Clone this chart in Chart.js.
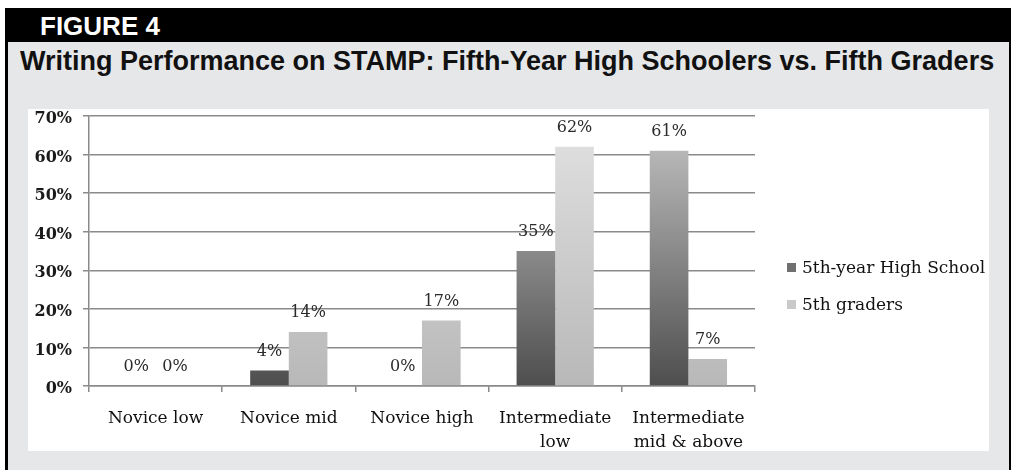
<!DOCTYPE html>
<html>
<head>
<meta charset="utf-8">
<title>Figure 4</title>
<script src="https://cdn.jsdelivr.net/npm/chart.js@4.4.1/dist/chart.umd.min.js"></script>
<style>
  html, body { margin: 0; padding: 0; background: #fff; }
  body {
    width: 1011px; height: 470px; position: relative; overflow: hidden;
    font-family: 'Liberation Sans', Arial, sans-serif;
  }
  .header {
    position: absolute; left: 5px; top: 8px; width: 1006px; height: 34px;
    background: #000;
  }
  .header span {
    position: absolute; left: 35px; top: 0; line-height: 36px;
    color: #fff; font-weight: bold; font-size: 26px;
  }
  .panel {
    position: absolute; left: 5px; top: 42px; width: 1006px; height: 428px;
    background: #e6e7e8; box-sizing: border-box;
    border-left: 3px solid #000; border-right: 2px solid #000;
  }
  .title {
    position: absolute; left: 20px; top: 46px; white-space: nowrap;
    font-weight: bold; font-size: 27px; line-height: 30px; color: #111;
  }
  .plot {
    position: absolute; left: 28px; top: 109px; width: 961px; height: 342px;
    background: #fff;
  }
  .plot canvas { display: block; }
</style>
</head>
<body>
<div class="header"><span>FIGURE 4</span></div>
<div class="panel"></div>
<div class="title">Writing Performance on STAMP: Fifth-Year High Schoolers vs. Fifth Graders</div>
<div class="plot"><canvas id="chart" width="961" height="342"></canvas></div>

<script>
// proficiency levels along the x axis
const categories = [
    'Novice low',
    'Novice mid',
    'Novice high',
    ['Intermediate', 'low'],
    ['Intermediate', 'mid & above']
];

const seriesNames = ['5th-year High School', '5th graders'];

// percent of students at each level
const highSchoolValues = [0, 4, 0, 35, 61];
const fifthGraderValues = [0, 14, 17, 62, 7];

const yTickLabels = ['0%', '10%', '20%', '30%', '40%', '50%', '60%', '70%'];

const SERIF = "'DejaVu Serif', serif";
const AXIS_GRAY = '#8a8a8a';

// vertical fade across the plot area, light at the top, darker at the base
function fade(topColor, bottomColor) {
    return function (context) {
        const chart = context.chart;
        const area = chart.chartArea;
        if (!area) return bottomColor;
        const g = chart.ctx.createLinearGradient(0, area.top, 0, area.bottom);
        g.addColorStop(0, topColor);
        g.addColorStop(1, bottomColor);
        return g;
    };
}

const legendSwatches = ['#707070', '#c9c9c9'];

// percentage written over each bar
const valueLabels = {
    id: 'valueLabels',
    afterDatasetsDraw(chart) {
        const ctx = chart.ctx;
        ctx.save();
        ctx.font = '16px ' + SERIF;
        ctx.fillStyle = '#2a2a2a';
        ctx.textAlign = 'center';
        ctx.textBaseline = 'middle';
        chart.data.datasets.forEach((ds, i) => {
            chart.getDatasetMeta(i).data.forEach((bar, j) => {
                ctx.fillText(ds.data[j] + '%', bar.x, bar.y - 19);
            });
        });
        ctx.restore();
    }
};

// legend sits to the right of the plot, a little below centre
const sideLegend = {
    id: 'sideLegend',
    afterDraw(chart) {
        const ctx = chart.ctx;
        const area = chart.chartArea;
        const x = area.right + 32;
        let y = area.top + 153;
        ctx.save();
        ctx.font = '17px ' + SERIF;
        ctx.textBaseline = 'middle';
        ctx.textAlign = 'left';
        chart.data.datasets.forEach((ds, i) => {
            ctx.fillStyle = legendSwatches[i];
            ctx.fillRect(x, y - 6, 9, 9);
            ctx.fillStyle = '#111';
            ctx.fillText(ds.label, x + 15, y);
            y += 37;
        });
        ctx.restore();
    }
};

new Chart(document.getElementById('chart'), {
    type: 'bar',
    data: {
        labels: categories,
        datasets: [
            {
                label: seriesNames[0],
                data: highSchoolValues,
                backgroundColor: fade('#c6c6c6', '#4e4e4e'),
                borderWidth: 0,
                categoryPercentage: 0.58,
                barPercentage: 1.0
            },
            {
                label: seriesNames[1],
                data: fifthGraderValues,
                backgroundColor: fade('#e2e2e2', '#b8b8b8'),
                borderWidth: 0,
                categoryPercentage: 0.58,
                barPercentage: 1.0
            }
        ]
    },
    options: {
        responsive: false,
        animation: false,
        devicePixelRatio: 1,
        layout: { padding: { top: 7, right: 234, bottom: 0, left: 0 } },
        plugins: {
            legend: { display: false },
            tooltip: { enabled: false }
        },
        scales: {
            x: {
                ticks: {
                    color: '#111',
                    font: { family: SERIF, size: 17, lineHeight: 1.4 },
                    padding: 15,
                    maxRotation: 0,
                    autoSkip: false
                },
                grid: {
                    drawOnChartArea: false,
                    tickLength: 6,
                    color: AXIS_GRAY,
                    lineWidth: 1.5,
                    offset: true
                },
                border: { color: AXIS_GRAY, width: 1.5 },
                afterFit(scale) {
                    scale.height = 65;
                    scale.paddingLeft = 0;
                    scale.paddingRight = 0;
                }
            },
            y: {
                min: 0,
                max: 70,
                ticks: {
                    stepSize: 10,
                    color: '#1a1a1a',
                    font: { family: SERIF, size: 16, weight: 'bold' },
                    padding: 11,
                    labelOffset: 3,
                    callback: (value, index) => yTickLabels[index]
                },
                grid: {
                    color: AXIS_GRAY,
                    lineWidth: 1.5,
                    tickLength: 6
                },
                border: { color: AXIS_GRAY, width: 1.5 },
                afterFit(scale) {
                    scale.width = 61;
                    scale.paddingTop = 0;
                    scale.paddingBottom = 0;
                }
            }
        }
    },
    plugins: [valueLabels, sideLegend]
});
</script>
</body>
</html>
